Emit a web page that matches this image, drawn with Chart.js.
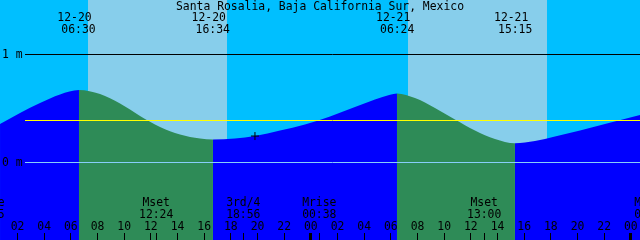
<!DOCTYPE html>
<html>
<head>
<meta charset="utf-8">
<script src="https://cdn.jsdelivr.net/npm/chart.js@4"></script>
<style>
html, body { margin: 0; padding: 0; background: #00bfff; }
#wrap { width: 640px; height: 240px; }
</style>
</head>
<body>
<div id="wrap"><canvas id="tideChart" width="640" height="240"></canvas></div>
<script>
// hours are counted from 12-20 00:00 local time
const title = 'Santa Rosalia, Baja California Sur, Mexico';

// tide height (m)
const tideHours = [0.69, 2.19, 3.69, 5.19, 6.61, 8.19, 9.69, 11.19, 12.69, 14.19, 15.69, 16.66,
                   18.31, 19.81, 21.69, 23.56, 25.44, 27.31, 28.81, 29.94, 30.46,
                   31.81, 33.31, 34.81, 36.31, 37.81, 39.31, 40.81, 42.31, 44.19, 46.06, 48.69];
const tideMeters = [0.356, 0.458, 0.551, 0.630, 0.671, 0.634, 0.546, 0.431, 0.329, 0.259, 0.222, 0.213,
                    0.222, 0.245, 0.296, 0.352, 0.426, 0.514, 0.583, 0.628, 0.639,
                    0.597, 0.505, 0.398, 0.296, 0.218, 0.178, 0.199, 0.241, 0.296, 0.356, 0.440];

// current time marker
const nowHour = 19.81;
const nowLevel = 0.245;

// daylight bands
const dayStart = [7.3, 31.3];
const dayEnd = [17.73, 41.73];

// sun events (top labels)
const sunHours = [6.5, 16.567, 30.4, 39.25];
const sunDates = ['12-20', '12-20', '12-21', '12-21'];
const sunTimes = ['06:30', '16:34', '06:24', '15:15'];

// moon events (bottom labels)
const moonHours = [-0.25, 12.4, 18.933, 24.633, 37.0, 49.55];
const moonNames = ['Mrise', 'Mset', '3rd/4', 'Mrise', 'Mset', 'Mrise'];
const moonTimes = ['23:45', '12:24', '18:56', '00:38', '13:00', '01:33'];

// hour axis
const hourTicks = [2, 4, 6, 8, 10, 12, 14, 16, 18, 20, 22, 24, 26, 28, 30, 32, 34, 36, 38, 40, 42, 44, 46, 48];
const hourLabels = ['02', '04', '06', '08', '10', '12', '14', '16', '18', '20', '22', '00',
                    '02', '04', '06', '08', '10', '12', '14', '16', '18', '20', '22', '00'];

// height marks
const levelValues = [1, 0];
const levelLabels = ['1 m', '0 m'];
const meanLevel = 0.389;

const FONT = '11.4px "DejaVu Sans Mono", "Liberation Mono", monospace';

const tideDecor = {
    id: 'tideDecor',
    beforeDatasetsDraw(chart) {
        const { ctx, chartArea: a, scales: { x } } = chart;
        ctx.save();
        ctx.fillStyle = '#00bfff';
        ctx.fillRect(a.left, a.top, a.width, a.height);
        ctx.fillStyle = '#87ceeb';
        dayStart.forEach((h, i) => {
            const x0 = Math.round(x.getPixelForValue(h));
            const x1 = Math.round(x.getPixelForValue(dayEnd[i]));
            ctx.fillRect(x0, a.top, x1 - x0, a.height);
        });
        ctx.restore();
    },
    afterDatasetsDraw(chart) {
        const { ctx, chartArea: a, scales: { x, y } } = chart;
        ctx.save();

        // horizontal reference lines
        const hline = (v, color) => {
            const py = Math.floor(y.getPixelForValue(v)) + 0.5;
            ctx.strokeStyle = color;
            ctx.lineWidth = 1;
            ctx.beginPath();
            ctx.moveTo(a.left + 25, py);
            ctx.lineTo(a.right, py);
            ctx.stroke();
        };
        hline(levelValues[0], '#000000');
        hline(meanLevel, '#ffff00');
        hline(levelValues[1], '#87cefa');

        ctx.font = FONT;
        ctx.fillStyle = '#000000';

        // level labels
        ctx.textAlign = 'left';
        levelValues.forEach((v, i) => {
            ctx.fillText(levelLabels[i], a.left + 2, Math.floor(y.getPixelForValue(v)) + 4);
        });

        ctx.textAlign = 'center';
        ctx.fillText(title, (a.left + a.right) / 2, 10);

        // sunrise / sunset
        sunHours.forEach((h, i) => {
            const px = x.getPixelForValue(h);
            ctx.fillText(sunDates[i], px - 3, 21);
            ctx.fillText(sunTimes[i], px + 1, 33);
        });

        // moon events
        moonHours.forEach((h, i) => {
            const px = x.getPixelForValue(h);
            ctx.fillText(moonNames[i], px, 206);
            ctx.fillText(moonTimes[i], px, 217.5);
            ctx.fillRect(Math.floor(px), 233, 1, 7);
        });

        // hour ticks
        hourTicks.forEach((h, i) => {
            const px = x.getPixelForValue(h);
            ctx.fillText(hourLabels[i], px, 230);
            if (h % 24 === 0) {
                ctx.fillRect(Math.floor(px) - 1, 233, 3, 7);
            } else {
                ctx.fillRect(Math.floor(px), 233, 1, 7);
            }
        });

        ctx.restore();
    }
};

const ctx = document.getElementById('tideChart').getContext('2d');
const tideChart = new Chart(ctx, {
    data: {
        datasets: [{
            type: 'scatter',
            data: [{ x: nowHour, y: nowLevel }],
            pointStyle: 'cross',
            pointRadius: 4,
            borderColor: '#000000',
            borderWidth: 1
        }, {
            type: 'line',
            data: tideHours.map((h, i) => ({ x: h, y: tideMeters[i] })),
            borderColor: 'rgba(0,0,0,0)',
            borderWidth: 0,
            pointRadius: 0,
            fill: 'start',
            cubicInterpolationMode: 'monotone',
            backgroundColor: '#0000ff',
            segment: {
                backgroundColor: c => c.p1.parsed.y < c.p0.parsed.y ? '#2e8b57' : '#0000ff'
            }
        }]
    },
    options: {
        responsive: false,
        animation: false,
        devicePixelRatio: 1,
        layout: { padding: 0, autoPadding: false },
        plugins: {
            legend: { display: false },
            tooltip: { enabled: false }
        },
        scales: {
            x: { type: 'linear', min: 0.6875, max: 48.6875, display: false },
            y: { min: -0.71759, max: 1.50463, display: false }
        }
    },
    plugins: [tideDecor]
});
</script>
</body>
</html>
